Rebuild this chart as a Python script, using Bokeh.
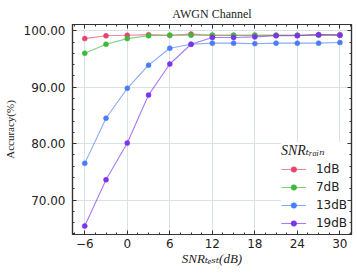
from bokeh.plotting import figure
from bokeh.models import (Range1d, FixedTicker, LinearAxis, Legend, LegendItem)
from bokeh.embed import file_html
from bokeh.resources import INLINE

# ---- data ----
snr_test = [-6, -3, 0, 3, 6, 9, 12, 15, 18, 21, 24, 27, 30]
acc_1dB = [98.6, 99.1, 99.2, 99.3, 99.2, 99.4, 99.2, 99.2, 99.2, 99.2, 99.2, 99.3, 99.3]
acc_7dB = [96.0, 97.6, 98.6, 99.1, 99.2, 99.2, 99.2, 99.2, 99.2, 99.2, 99.2, 99.2, 99.2]
acc_13dB = [76.5, 84.5, 89.8, 93.9, 96.9, 97.6, 97.8, 97.8, 97.7, 97.8, 97.8, 97.8, 97.9]
acc_19dB = [65.4, 73.6, 80.1, 88.6, 94.1, 97.6, 98.8, 98.8, 98.9, 99.1, 99.1, 99.3, 99.2]
series_labels = ["1dB", "7dB", "13dB", "19dB"]
series_values = [acc_1dB, acc_7dB, acc_13dB, acc_19dB]
series_colors = ["#e2476c", "#3cba3c", "#4a7cf6", "#7a33ee"]

x_ticks = [-6, 0, 6, 12, 18, 24, 30]
x_tick_labels = ["\u22126", "0", "6", "12", "18", "24", "30"]
y_ticks = [70, 80, 90, 100]
y_tick_labels = ["70.00", "80.00", "90.00", "100.00"]
x_minor = [-7.5 + 1.5 * i for i in range(27)]
y_minor = [64 + 2 * i for i in range(19)]

title_text = "AWGN Channel"
x_label = "SNR\u209c\u2091\u209b\u209c(dB)"
y_label = "Accuracy(%)"
legend_title = "SNR\u209c\u1d63\u2090\u1d62\u2099"

INK = "#333333"
SERIF = "Liberation Serif, DejaVu Serif, serif"

p = figure(width=357, height=276, x_range=Range1d(-7.73, 31.64), y_range=Range1d(63.9, 101.1),
           output_backend="svg", toolbar_location=None,
           min_border_left=71, min_border_right=6, min_border_top=23, min_border_bottom=42)
p.outline_line_color = INK
p.outline_line_width = 1.2
p.background_fill_color = "white"
p.border_fill_color = "white"

p.title.text = title_text
p.title.align = "center"
p.title.text_font = SERIF
p.title.text_font_size = "12px"
p.title.text_font_style = "normal"
p.title.text_color = "#222222"
p.title.standoff = 8
p.title.offset = 0

xt = FixedTicker(ticks=x_ticks, minor_ticks=x_minor)
yt = FixedTicker(ticks=y_ticks, minor_ticks=y_minor)

xa = p.below[0]
ya = p.left[0]
xa.ticker = xt
ya.ticker = yt
xa.major_label_overrides = dict(zip(x_ticks, x_tick_labels))
ya.major_label_overrides = dict(zip(y_ticks, y_tick_labels))

top = LinearAxis(ticker=xt)
right = LinearAxis(ticker=yt)
p.add_layout(top, "above")
p.add_layout(right, "right")

for ax in [xa, ya, top, right]:
    ax.axis_line_color = INK
    ax.axis_line_width = 1.2
    ax.major_tick_in = 4
    ax.major_tick_out = 0
    ax.minor_tick_in = 2
    ax.minor_tick_out = 0
    ax.major_tick_line_color = INK
    ax.minor_tick_line_color = INK
    ax.major_label_text_font = "DejaVu Sans"
    ax.major_label_text_font_size = "12px"
    ax.major_label_text_color = "#222222"

top.major_label_overrides = {t: "" for t in x_ticks}
right.major_label_overrides = {t: "" for t in y_ticks}
for ax in [top, right]:
    ax.major_label_text_font_size = "1px"
    ax.major_label_standoff = 0
    ax.axis_label = None

xa.major_label_standoff = 4
xa.axis_label = x_label
xa.axis_label_text_font = SERIF
xa.axis_label_text_font_style = "italic"
xa.axis_label_text_font_size = "13px"
xa.axis_label_standoff = 0
xa.axis_label_text_color = "#222222"

ya.major_label_standoff = 7
ya.axis_label = y_label
ya.axis_label_text_font = SERIF
ya.axis_label_text_font_style = "normal"
ya.axis_label_text_font_size = "11px"
ya.axis_label_standoff = 5
ya.axis_label_text_color = "#222222"

p.xgrid.ticker = xt
p.ygrid.ticker = yt
p.grid.grid_line_color = "#d9e1e4"
p.grid.grid_line_width = 1

items = []
for lab, vals, col in zip(series_labels, series_values, series_colors):
    rl = p.line(snr_test, vals, line_color=col, line_width=1.1, line_alpha=0.65)
    rs = p.scatter(snr_test, vals, size=5, fill_color=col, line_color=col, line_width=0.5)
    items.append(LegendItem(label=lab, renderers=[rl, rs]))

legend = Legend(items=items, location="bottom_right", margin=4, padding=6,
                background_fill_color="white", background_fill_alpha=1.0,
                border_line_color=None, title=legend_title, title_text_font=SERIF,
                title_text_font_style="italic", title_text_font_size="14px",
                title_text_color="#222222",
                title_standoff=3, glyph_width=25, glyph_height=14, label_height=14,
                label_standoff=10, spacing=4, label_text_font="DejaVu Sans",
                label_text_font_size="12px", label_text_color="#222222")
p.add_layout(legend)

open("out.html", "w").write(file_html(p, INLINE))
